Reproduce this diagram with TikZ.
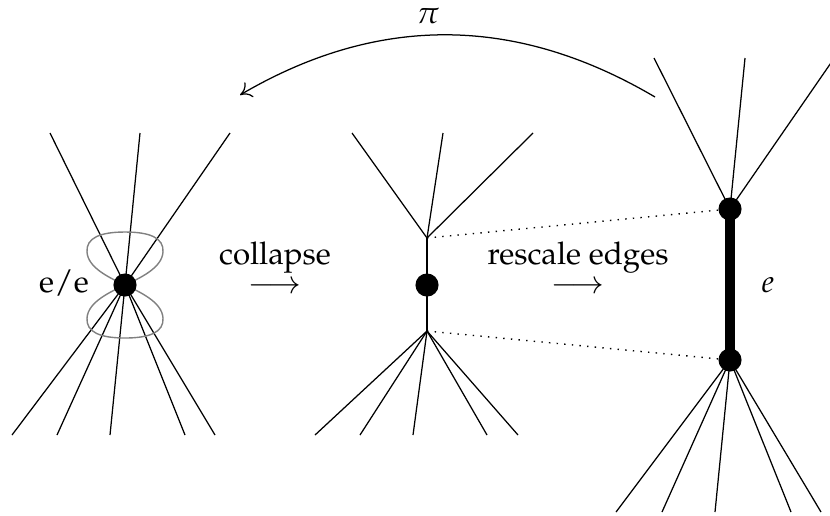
\documentclass[tikz,border=0pt]{standalone}
\usepackage[T1]{fontenc}
\usepackage{mathpazo}
\usetikzlibrary{arrows.meta}
\begin{document}
\begin{tikzpicture}[x=0.32pt,y=-0.32pt,
  vtx/.style={circle,fill=black,inner sep=0pt,minimum size=7.4pt},
  leg/.style={line width=0.4pt},
  loopline/.style={gray,line width=0.45pt},
  dots/.style={dotted,line width=0.45pt},
  lbl/.style={inner sep=0pt},
  steplbl/.style={inner sep=0pt,align=center,anchor=north}]
\useasboundingbox (0,0) rectangle (830,515);
% ---------- left figure ----------
\coordinate (L) at (125,285);
\foreach \x [count=\i] in {50,140,230} \coordinate (Lu\i) at (\x,133);
\foreach \x [count=\i] in {12,57,110,185,215} \coordinate (Ld\i) at (\x,435);
\foreach \i in {1,2,3} \draw[leg] (L) -- (Lu\i);
\foreach \i in {1,...,5} \draw[leg] (L) -- (Ld\i);
\draw[loopline] (L) .. controls (110,278) and (88,268) .. (87,252)
  .. controls (86,238) and (100,232) .. (125,232)
  .. controls (150,232) and (164,238) .. (163,252)
  .. controls (162,268) and (140,278) .. (L);
\draw[loopline] (L) .. controls (110,292) and (88,302) .. (87,318)
  .. controls (86,332) and (100,338) .. (125,338)
  .. controls (150,338) and (164,332) .. (163,318)
  .. controls (162,302) and (140,292) .. (L);
\node[vtx] (Lv) at (L) {};
\node[lbl] (ee) at (64,283) {$\mathrm{e/e}$};
% ---------- middle figure ----------
\coordinate (Mu) at (427,238);
\coordinate (Md) at (427,331);
\foreach \x [count=\i] in {352,443,533} \coordinate (Mu\i) at (\x,133);
\foreach \x [count=\i] in {315,360,413,487,518} \coordinate (Md\i) at (\x,435);
\foreach \i in {1,2,3} \draw[leg] (Mu) -- (Mu\i);
\foreach \i in {1,...,5} \draw[leg] (Md) -- (Md\i);
\draw[leg] (Mu) -- (Md);
\node[vtx] (Mv) at (427,285) {};
% ---------- right figure ----------
\coordinate (Ru) at (730,209);
\coordinate (Rd) at (730,360);
\foreach \x/\y [count=\i] in {654/58,745/58,835/57} \coordinate (Ru\i) at (\x,\y);
\foreach \x [count=\i] in {616,662,715,791,821} \coordinate (Rd\i) at (\x,512);
\foreach \i in {1,2,3} \draw[leg] (Ru) -- (Ru\i);
\foreach \i in {1,...,5} \draw[leg] (Rd) -- (Rd\i);
\draw[line width=3.5pt] (Ru) -- (Rd);
\node[vtx] (Rtv) at (Ru) {};
\node[vtx] (Rbv) at (Rd) {};
\node[lbl] (elab) at (768,285) {$e$};
% ---------- dotted correspondences ----------
\draw[dots] (Mu) -- (Rtv.center);
\draw[dots] (Md) -- (Rbv.center);
% ---------- labels ----------
\node[steplbl] (coll) at (275,241) {collapse\\[-2.7pt]$\longrightarrow$};
\node[steplbl] (resc) at (578,241) {rescale edges\\[-2.7pt]$\longrightarrow$};
% ---------- pi arrow ----------
\coordinate (pistart) at (655,97);
\coordinate (piend) at (240,95);
\draw[-{To[length=3.5pt,width=5.5pt]}] (pistart) .. controls (516,15) and (378,14) .. (piend);
\node[lbl] (pi) at (428,16) {$\pi$};
\end{tikzpicture}
\end{document}
